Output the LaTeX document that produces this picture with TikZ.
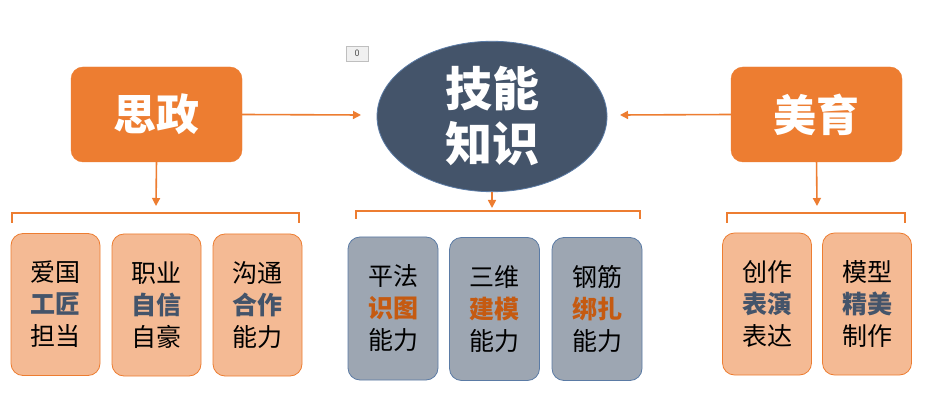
\documentclass[tikz,border=0pt]{standalone}
\usepackage{fontspec}
\setmainfont{Noto Sans CJK SC}
\usetikzlibrary{arrows.meta,shapes.geometric}
\definecolor{org}{HTML}{ED7D31}
\definecolor{lorg}{HTML}{F4BA94}
\definecolor{slate}{HTML}{44546A}
\definecolor{gbox}{HTML}{9DA6B2}
\definecolor{gline}{HTML}{5B7BA5}
\definecolor{dorg}{HTML}{C55A11}
\tikzset{
  head/.style={draw=org, fill=org, rounded corners=12pt, minimum width=171pt, minimum height=95pt, text=white, font=\fontsize{43}{46}\selectfont\bfseries},
  core/.style={ellipse, draw=gline, line width=0.8pt, fill=slate, minimum width=230pt, minimum height=141pt, text=white, align=center, font=\fontsize{47}{57}\selectfont\bfseries},
  conn/.style={draw=org, line width=1.6pt, -{Triangle[length=8pt,width=8pt]}},
  brk/.style={draw=org, line width=1.6pt},
  obox/.style={draw=org, line width=0.8pt, fill=lorg, rounded corners=12pt, minimum width=89pt, minimum height=142pt, align=center, font=\fontsize{25}{32}\selectfont},
  gboxs/.style={draw=gline, line width=0.8pt, fill=gbox, rounded corners=12pt, minimum width=90pt, minimum height=143pt, align=center, font=\fontsize{25}{32}\selectfont},
  tag/.style={draw=black!25, fill=black!6, minimum width=22pt, minimum height=15pt, inner sep=0pt, font=\fontsize{9}{9}\selectfont, text=black!70}
}
\newcommand{\hlb}[1]{\textcolor{slate}{\bfseries #1}}
\newcommand{\hlo}[1]{\textcolor{dorg}{\bfseries #1}}
\begin{document}
\begin{tikzpicture}[x=1pt,y=-1pt]
\useasboundingbox[fill=white] (0,0) rectangle (936,411);
\node[tag] (zero) at (357,53.5) {0};
\node[head] (sz) at (156.5,114.5) {思政};
\node[head] (my) at (816.5,114.5) {美育};
\node[core] (jn) at (492,116.5) {技能\\[-2pt]知识};
% arrows to core
\coordinate (jnL) at (361,115);
\coordinate (jnR) at (620,115);
\draw[conn] (sz.east) -- (jnL);
\draw[conn] (my.west) -- (jnR);
% down arrows
\coordinate (szD) at (156,206);
\coordinate (jnD) at (492,208);
\coordinate (myD) at (817,206);
\draw[conn] ([yshift=2pt]sz.south) -- (szD);
\draw[conn] (jn.south) -- (jnD);
\draw[conn] ([yshift=3pt]my.south) -- (myD);
% brackets
\draw[brk] (12,223) -- (12,213) -- (299,213) -- (299,223);
\draw[brk] (356,219) -- (356,211) -- (640,211) -- (640,219);
\draw[brk] (727,223) -- (727,213) -- (905,213) -- (905,223);
% left group
\node[obox] (a1) at (55.5,304.5) {爱国\\\hlb{工匠}\\担当};
\node[obox] (a2) at (156.5,305) {职业\\\hlb{自信}\\自豪};
\node[obox] (a3) at (257.5,305) {沟通\\\hlb{合作}\\能力};
% middle group
\node[gboxs] (b1) at (393,308.5) {平法\\\hlo{识图}\\能力};
\node[gboxs] (b2) at (494.5,309) {三维\\\hlo{建模}\\能力};
\node[gboxs] (b3) at (597,309) {钢筋\\\hlo{绑扎}\\能力};
% right group
\node[obox] (c1) at (767,304) {创作\\\hlb{表演}\\表达};
\node[obox] (c2) at (867,304) {模型\\\hlb{精美}\\制作};
\end{tikzpicture}
\end{document}
